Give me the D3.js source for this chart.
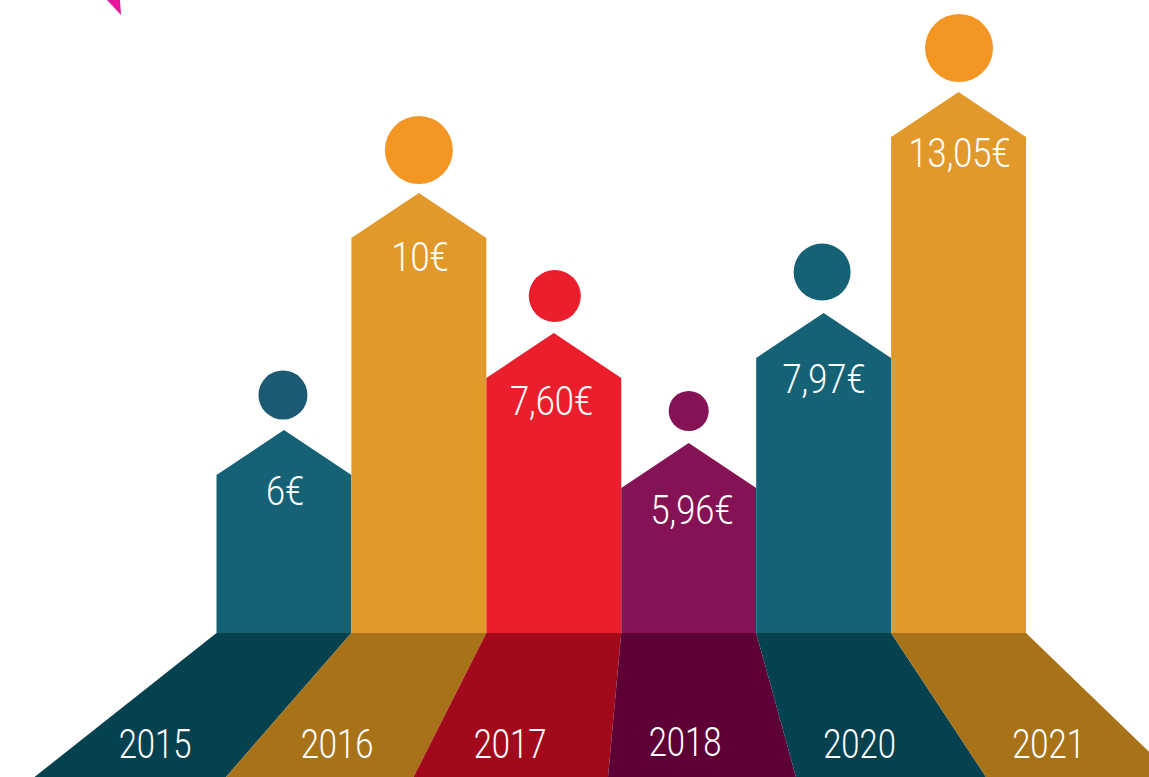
<!DOCTYPE html>
<html>
<head>
<meta charset="utf-8">
<script src="https://cdn.jsdelivr.net/npm/d3@7/dist/d3.min.js"></script>
<style>
    html, body { margin: 0; padding: 0; background: #fff; overflow: hidden; }
    svg { display: block; }
    text { font-family: Roboto, sans-serif; font-weight: 300; fill: #fff; text-anchor: middle; }
</style>
</head>
<body>
<div id="chart"></div>
<script>
var years = ['2015', '2016', '2017', '2018', '2020', '2021'];
var values = [6, 10, 7.6, 5.96, 7.97, 13.05];
var valueLabels = ['6€', '10€', '7,60€', '5,96€', '7,97€', '13,05€'];
var barColors = ['#156276', '#e2992b', '#ea1e2d', '#841254', '#156276', '#e2992b'];
var floorColors = ['#05414f', '#a87218', '#a20a1b', '#5c0035', '#05414f', '#a87218'];
var dotColors = ['#1c5a73', '#f39624', '#ea1e2d', '#841254', '#156276', '#f39624'];

var width = 1149, height = 777;
var baseY = 633, roofH = 45;

// the bars in the source are not proportional to the numbers, so the value scales are piecewise
var sorted = values.slice().sort(d3.ascending);
var y = d3.scaleLinear().domain(sorted).range([488, 475, 378, 358, 238, 137]);
var r = d3.scaleLinear().domain(sorted).range([20, 24.5, 26, 28.5, 34, 34]);
var dotY = d3.scaleLinear().domain(sorted).range([411, 395, 296, 272, 150, 48]);

var x = d3.scaleBand().domain(years).range([216.5, 1026]);
var floorX = d3.scaleLinear().domain(d3.range(7)).range([34.5, 226, 413.5, 608, 796, 986, 1175]);
var yearX = d3.scaleOrdinal(years, [155, 337, 510, 685, 859.5, 1048.5]);
var yearY = d3.scaleOrdinal(years, [758, 758, 758, 756, 758, 758]);
var valueX = d3.scaleOrdinal(years, [285, 420, 551.5, 692, 824, 959.5]);
var valueDy = d3.scaleOrdinal(years, [30, 33, 37, 36, 35, 30]);
var dotDx = d3.scaleOrdinal(years, [-1, 0, 1, 0, -1.5, 0.5]);

var svg = d3.select('#chart').append('svg')
    .attr('width', width)
    .attr('height', height);

var rows = years.map(function (year, i) {
    return { year: year, i: i, value: values[i], label: valueLabels[i] };
});

// pink corner left over from the page the chart was cut out of
svg.append('path')
    .attr('d', 'M107,0L120,0L121,15Z')
    .attr('fill', '#e6179b');

svg.selectAll('.floor')
    .data(rows)
    .enter().append('path')
    .attr('class', 'floor')
    .attr('fill', function (d) { return floorColors[d.i]; })
    .attr('d', function (d) {
        var l = x(d.year), w = x.bandwidth();
        return 'M' + l + ',' + baseY + 'L' + (l + w) + ',' + baseY +
            'L' + floorX(d.i + 1) + ',' + height + 'L' + floorX(d.i) + ',' + height + 'Z';
    });

svg.selectAll('.bar')
    .data(rows)
    .enter().append('path')
    .attr('class', 'bar')
    .attr('fill', function (d) { return barColors[d.i]; })
    .attr('d', function (d) {
        var l = x(d.year), w = x.bandwidth(), top = y(d.value);
        return 'M' + l + ',' + baseY + 'L' + l + ',' + top +
            'L' + (l + w / 2) + ',' + (top - roofH) +
            'L' + (l + w) + ',' + top + 'L' + (l + w) + ',' + baseY + 'Z';
    });

svg.selectAll('.dot')
    .data(rows)
    .enter().append('circle')
    .attr('class', 'dot')
    .attr('cx', function (d) { return x(d.year) + x.bandwidth() / 2 + dotDx(d.year); })
    .attr('cy', function (d) { return dotY(d.value); })
    .attr('r', function (d) { return r(d.value); })
    .attr('fill', function (d) { return dotColors[d.i]; });

svg.selectAll('.value')
    .data(rows)
    .enter().append('text')
    .attr('class', 'value')
    .attr('font-size', 40)
    .attr('transform', function (d) {
        return 'translate(' + valueX(d.year) + ',' + (y(d.value) + valueDy(d.year)) + ') scale(0.86,1)';
    })
    .text(function (d) { return d.label; });

svg.selectAll('.year')
    .data(rows)
    .enter().append('text')
    .attr('class', 'year')
    .attr('font-size', 41)
    .attr('transform', function (d) {
        return 'translate(' + yearX(d.year) + ',' + yearY(d.year) + ') scale(0.8,1)';
    })
    .text(function (d) { return d.year; });
</script>
</body>
</html>
